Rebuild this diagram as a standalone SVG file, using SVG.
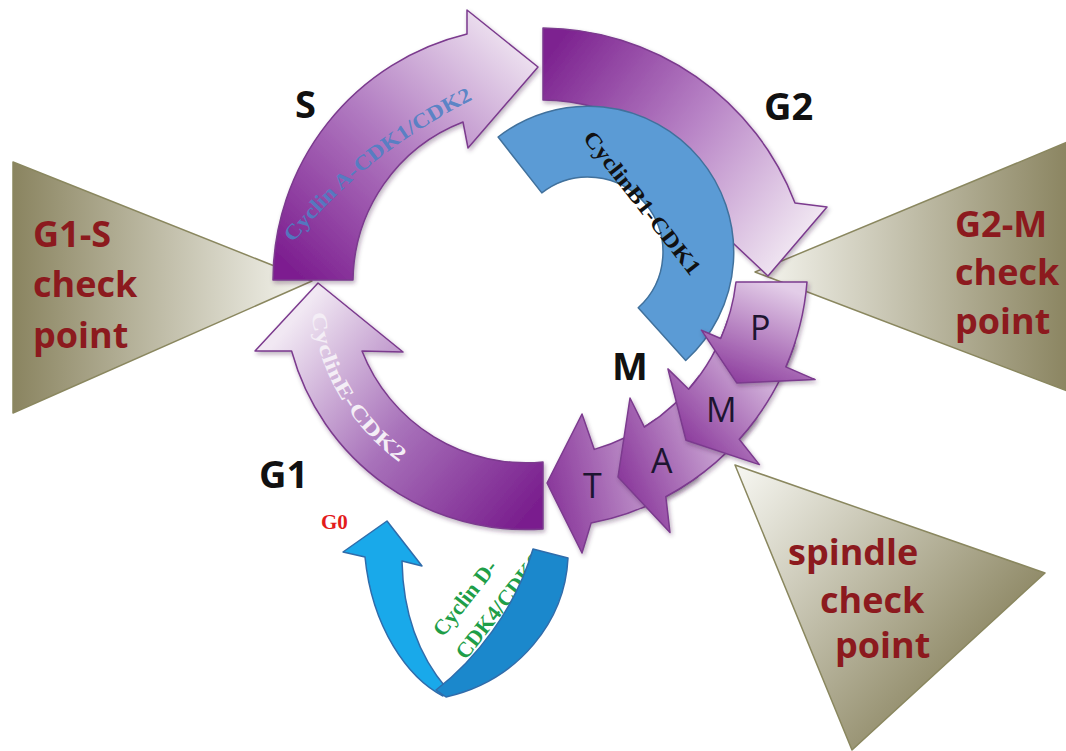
<svg xmlns="http://www.w3.org/2000/svg" width="1066" height="751" viewBox="0 0 1066 751">
  <defs>
    <style>
      .arrow { stroke: #7b3a8e; stroke-width: 1.5; stroke-linejoin: round; filter: url(#shadow); }
      .tri { stroke: #8a875f; stroke-width: 1.5; stroke-linejoin: round; }
      .ck { font-family: "Open Sans", "Liberation Sans", sans-serif; font-weight: 700; font-size: 36px; fill: #8c1a1e; }
      .phase { font-family: "Open Sans", "Liberation Sans", sans-serif; font-weight: 700; font-size: 38px; fill: #111111; }
      .sub { font-family: "Open Sans", "Liberation Sans", sans-serif; font-weight: 400; font-size: 34px; fill: #1d1530; }
      .serif { font-family: "Liberation Serif", "Times New Roman", serif; font-weight: 700; }
    </style>
    <filter id="shadow" x="-15%" y="-15%" width="135%" height="135%">
      <feDropShadow dx="1.5" dy="2.5" stdDeviation="2" flood-color="#3a1a40" flood-opacity="0.35"/>
    </filter>
    <!-- checkpoint wedges: dark olive at the wide end, pale at the point -->
    <linearGradient id="gTriL" x1="0" y1="0" x2="1" y2="0">
      <stop offset="0" stop-color="#8a8460"/>
      <stop offset="1" stop-color="#f6f6f0"/>
    </linearGradient>
    <linearGradient id="gTriR" x1="1" y1="0" x2="0" y2="0">
      <stop offset="0" stop-color="#8a8460"/>
      <stop offset="1" stop-color="#f6f6f0"/>
    </linearGradient>
    <linearGradient id="gTriSp" gradientUnits="userSpaceOnUse" x1="745" y1="470" x2="980" y2="680">
      <stop offset="0" stop-color="#f4f4ee"/>
      <stop offset="1" stop-color="#8a8460"/>
    </linearGradient>
    <!-- phase arrows: deep purple at the tail, pale at the head -->
    <linearGradient id="gS" gradientUnits="userSpaceOnUse" x1="300" y1="275" x2="520" y2="40">
      <stop offset="0" stop-color="#7d1f90"/>
      <stop offset="0.5" stop-color="#b17bc1"/>
      <stop offset="1" stop-color="#efe4f1"/>
    </linearGradient>
    <linearGradient id="gG2" gradientUnits="userSpaceOnUse" x1="545" y1="60" x2="800" y2="250">
      <stop offset="0" stop-color="#7d2390"/>
      <stop offset="0.5" stop-color="#b884c6"/>
      <stop offset="1" stop-color="#f2e9f3"/>
    </linearGradient>
    <linearGradient id="gG1" gradientUnits="userSpaceOnUse" x1="543" y1="495" x2="310" y2="300">
      <stop offset="0" stop-color="#7a1f8e"/>
      <stop offset="0.5" stop-color="#a872ba"/>
      <stop offset="1" stop-color="#f1e8f3"/>
    </linearGradient>
    <!-- mitosis sub-phase pieces: dark at the head, lighter at the tail -->
    <linearGradient id="gP" gradientUnits="userSpaceOnUse" x1="771" y1="282" x2="730" y2="385">
      <stop offset="0" stop-color="#e3cde8"/>
      <stop offset="1" stop-color="#8a389b"/>
    </linearGradient>
    <linearGradient id="gM" gradientUnits="userSpaceOnUse" x1="770" y1="360" x2="680" y2="440">
      <stop offset="0" stop-color="#dcc3e3"/>
      <stop offset="1" stop-color="#8a389b"/>
    </linearGradient>
    <linearGradient id="gA" gradientUnits="userSpaceOnUse" x1="735" y1="420" x2="615" y2="470">
      <stop offset="0" stop-color="#d8bee0"/>
      <stop offset="1" stop-color="#8a389b"/>
    </linearGradient>
    <linearGradient id="gT" gradientUnits="userSpaceOnUse" x1="680" y1="455" x2="547" y2="483">
      <stop offset="0" stop-color="#d4b8dd"/>
      <stop offset="1" stop-color="#8a389b"/>
    </linearGradient>
    <path id="pS" d="M293,243 Q368,150 480,96"/>
    <path id="pE" d="M311.6,313.3 A216 216 0 0 0 405.2,466.1"/>
  </defs>

  <rect width="1066" height="751" fill="#ffffff"/>

  <!-- checkpoint wedges -->
  <g id="g1s-checkpoint">
    <polygon class="tri" points="13,162 13,413 312,281" fill="url(#gTriL)"/>
    <text class="ck" x="33" y="247">G1-S</text>
    <text class="ck" x="33" y="297">check</text>
    <text class="ck" x="33" y="348">point</text>
  </g>
  <g id="g2m-checkpoint">
    <polygon class="tri" points="755,272 1070,141 1070,392" fill="url(#gTriR)"/>
    <text class="ck" x="955" y="237">G2-M</text>
    <text class="ck" x="955" y="285">check</text>
    <text class="ck" x="955" y="334">point</text>
  </g>
  <g id="spindle-checkpoint">
    <polygon class="tri" points="735,465 1045,573 852,750" fill="url(#gTriSp)"/>
    <text class="ck" x="788" y="565">spindle</text>
    <text class="ck" x="820" y="613">check</text>
    <text class="ck" x="835" y="658">point</text>
  </g>

  <!-- G0 exit loop -->
  <g id="g0-loop">
    <path d="M443,696 C408,678 372,628 365,557 L343,552 L387,521 L422,566 L402,561 C403,612 418,655 447,689 Z" fill="#19a9ea" stroke="#2f6cab" stroke-width="1.5" stroke-linejoin="round"/>
    <text class="serif" font-size="22" fill="#1e9e48" transform="translate(443,638) rotate(-52)">
      <tspan x="0" y="0">Cyclin D-</tspan>
      <tspan x="-4" y="32">CDK4/CDK6</tspan>
    </text>
    <path d="M533,549 L568,558 C565,620 520,680 446,697 L436,690 C475,660 515,610 533,549 Z" fill="#1b88cc" stroke="#2f6cab" stroke-width="1.5" stroke-linejoin="round"/>
    <text class="serif" x="321" y="529" font-size="21" fill="#e31b1b">G0</text>
  </g>

  <!-- main cycle arrows -->
  <g id="connectors">
    <g id="g1-arrow">
      <path class="arrow" fill="url(#gG1)" d="M543,462 L543,529 A243 243 0 0 1 291.6,351 L255,351 L318,283 L403,352 L362,351 A176 176 0 0 0 543,462 Z"/>
      <text class="serif" font-size="21" fill="#f4eef6"><textPath href="#pE" textLength="178" lengthAdjust="spacingAndGlyphs">CyclinE-CDK2</textPath></text>
    </g>
    <g id="s-arrow">
      <path class="arrow" fill="url(#gS)" d="M353,280 L273,280 A253 253 0 0 1 467,34 L467,10 L538,67 L468,148 L463,122 A172 172 0 0 0 353,280 Z"/>
      <text class="serif" font-size="21" fill="#4d80c4" fill-opacity="0.9"><textPath href="#pS" textLength="96" lengthAdjust="spacingAndGlyphs">Cyclin A-</textPath></text>
      <text class="serif" font-size="21" fill="#4d80c4" fill-opacity="0.9"><textPath href="#pS" startOffset="97" textLength="135" lengthAdjust="spacingAndGlyphs">CDK1/CDK2</textPath></text>
    </g>
    <g id="g2-arrow">
      <path class="arrow" fill="url(#gG2)" d="M543,28 A272 272 0 0 1 795,203 L827,207 L768,276 L700,212 L718,207 A200 200 0 0 0 543,100 Z"/>
    </g>
  </g>

  <!-- cyclin B1 band -->
  <g id="cyclinB1">
    <path d="M498.1,137 A146 146 0 0 1 685.7,360.5 L638.2,307.7 A75 75 0 0 0 541.8,192.9 Z" fill="#5b9bd5" stroke="#41719c" stroke-width="1.5" stroke-linejoin="round"/>
    <text class="serif" font-size="22" fill="#111111" transform="translate(642,203) rotate(52)" x="0" y="7" text-anchor="middle" textLength="176" lengthAdjust="spacingAndGlyphs">CyclinB1-CDK1</text>
  </g>

  <!-- mitosis sub-phases -->
  <g id="mitosis">
    <g id="telophase">
      <path class="arrow" fill="url(#gT)" d="M655.8,419.4 L697.5,476.8 A268 268 0 0 1 591.1,523.1 L582,553 L547,483 L582,414 L594.3,449.4 A197 197 0 0 0 655.8,419.4 Z"/>
      <text class="sub" x="583" y="498">T</text>
    </g>
    <g id="anaphase">
      <path class="arrow" fill="url(#gA)" d="M699.4,375.8 L756.8,417.5 A268 268 0 0 1 665.8,496.6 L670,532.6 L618,477 L630,398 L644.4,427.1 A197 197 0 0 0 699.4,375.8 Z"/>
      <text class="sub" x="651" y="473">A</text>
    </g>
    <g id="metaphase">
      <path class="arrow" fill="url(#gM)" d="M727.4,320.9 L794.9,342.8 A268 268 0 0 1 739.2,439.3 L759.4,464.6 L686,440.3 L667.9,368.9 L688.7,389.2 A197 197 0 0 0 727.4,320.9 Z"/>
      <text class="sub" x="706" y="422">M</text>
    </g>
    <g id="prophase">
      <path class="arrow" fill="url(#gP)" d="M736,282 L807,282 A268 268 0 0 1 785.8,366.9 L815.1,379.6 L736.7,382.9 L701.4,330.2 L720.7,338.5 A197 197 0 0 0 736,282 Z"/>
      <text class="sub" x="750" y="340">P</text>
    </g>
  </g>

  <!-- phase labels -->
  <g id="labels">
    <text class="phase" x="295" y="118">S</text>
    <text class="phase" x="764" y="120">G2</text>
    <text class="phase" x="612" y="380">M</text>
    <text class="phase" x="259" y="488">G1</text>
  </g>
</svg>
